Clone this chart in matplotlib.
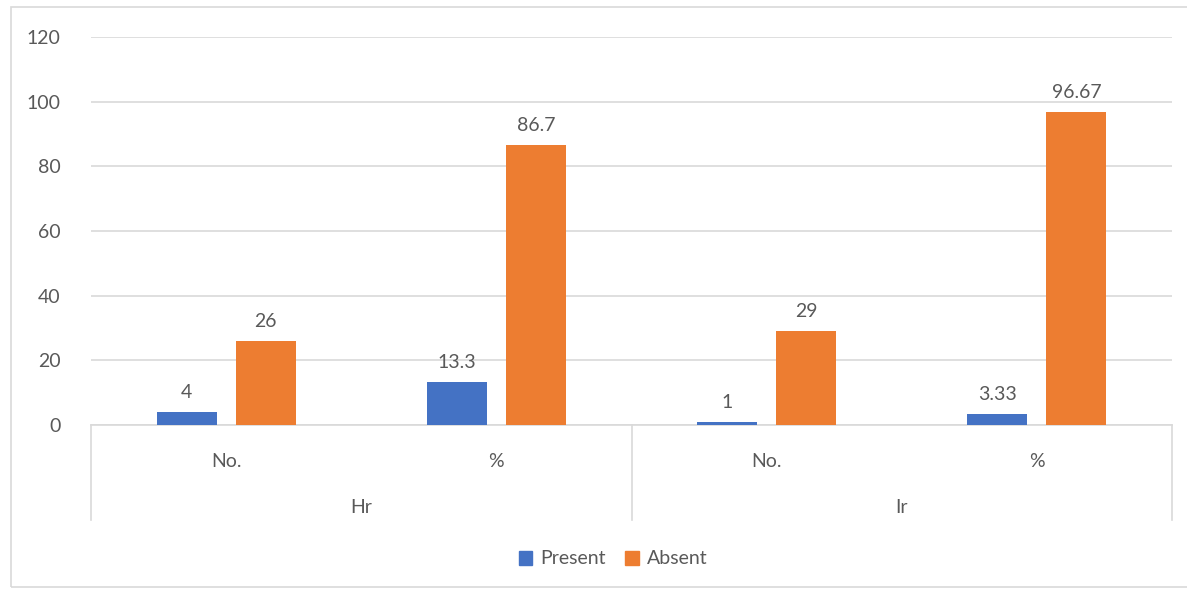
import matplotlib.pyplot as plt
from matplotlib.patches import Rectangle
from matplotlib.lines import Line2D
import numpy as np

plt.rcParams['font.family'] = ['Lato', 'DejaVu Sans']

# Data
groups = ['Hr', 'Ir']
subcats = ['No.', '%', 'No.', '%']
present = [4, 13.3, 1, 3.33]
absent = [26, 86.7, 29, 96.67]
present_labels = ['4', '13.3', '1', '3.33']
absent_labels = ['26', '86.7', '29', '96.67']

blue = '#4472C4'
orange = '#ED7D31'
text_col = '#595959'
grid_col = '#D9D9D9'
fs = 14

fig = plt.figure(figsize=(11.87, 5.89), dpi=100)
ax = fig.add_axes([91 / 1187, 1 - 425 / 589, (1172 - 91) / 1187, (425 - 37) / 589])

x = np.arange(len(subcats))
w = 0.222
off = 0.146
b1 = ax.bar(x - off, present, w, color=blue, zorder=3)
b2 = ax.bar(x + off, absent, w, color=orange, zorder=3)

for bars, labels in ((b1, present_labels), (b2, absent_labels)):
    for bar, lab in zip(bars, labels):
        ax.annotate(lab, (bar.get_x() + bar.get_width() / 2, bar.get_height()),
                    xytext=(0, 8), textcoords='offset points', ha='center', va='bottom',
                    fontsize=fs, color=text_col)

ax.set_xlim(-0.5, len(subcats) - 0.5)
ax.set_ylim(0, 120)
ax.set_yticks(range(0, 121, 20))
ax.yaxis.grid(True, color=grid_col, linewidth=1.2, zorder=0)
ax.tick_params(axis='y', length=0, labelsize=fs, labelcolor=text_col, pad=22)
ax.set_xticks([])
for s in ['top', 'right', 'left']:
    ax.spines[s].set_visible(False)
ax.spines['bottom'].set_color(grid_col)
ax.spines['bottom'].set_linewidth(1.2)

# two-level category axis
trans = ax.get_xaxis_transform()
for i, lab in enumerate(subcats):
    ax.text(i, -0.093, lab, transform=trans, ha='center', va='center',
            fontsize=fs, color=text_col)
for g, lab in enumerate(groups):
    ax.text(2 * g + 0.5, -0.212, lab, transform=trans, ha='center', va='center',
            fontsize=fs, color=text_col)
for xb in (-0.5, 1.5, 3.5):
    ax.add_line(Line2D([xb, xb], [0, -0.245], transform=trans, color=grid_col,
                       linewidth=1.2, clip_on=False))

# legend
handles = [Rectangle((0, 0), 1, 1, color=blue), Rectangle((0, 0), 1, 1, color=orange)]
fig.legend(handles, ['Present', 'Absent'], loc='center', bbox_to_anchor=(613 / 1187, 1 - 559 / 589),
           ncol=2, frameon=False, fontsize=fs, handlelength=0.7, handleheight=0.7,
           handletextpad=0.4, columnspacing=1.0, labelcolor=text_col)

# chart border
fig.patches.append(Rectangle((11 / 1187, 2 / 589), 1.2, 1 - 9 / 589, transform=fig.transFigure,
                             fill=False, edgecolor=grid_col, linewidth=1.2))

fig.savefig('out.png', dpi=100)
